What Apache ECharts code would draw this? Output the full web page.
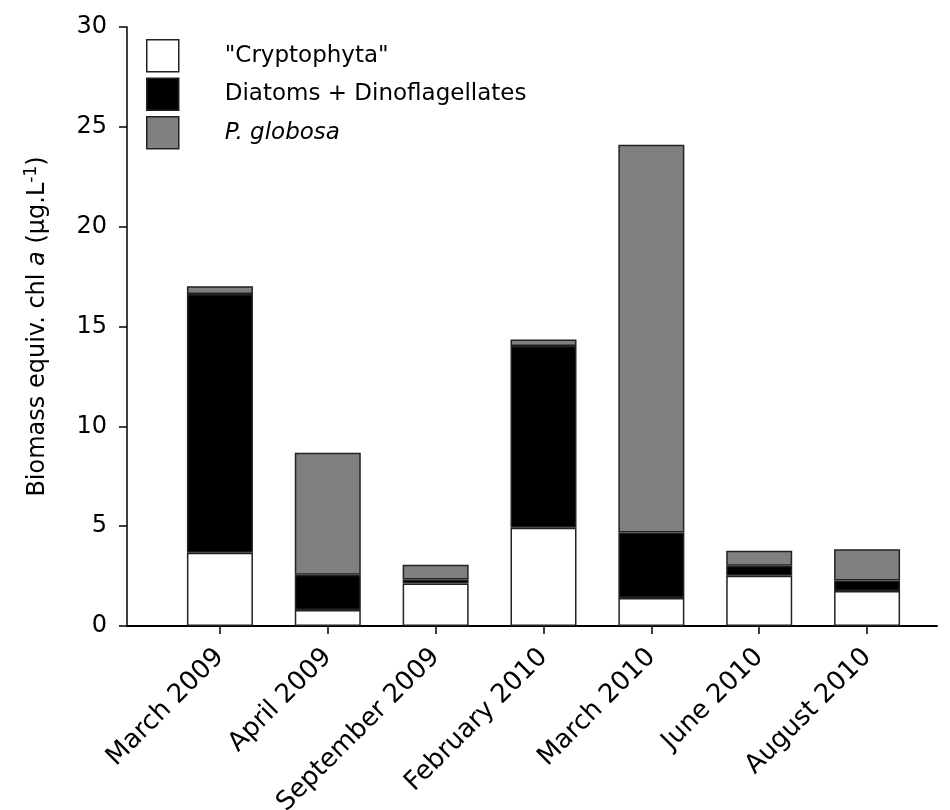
<!DOCTYPE html>
<html><head><meta charset="utf-8">
<script src="https://cdn.jsdelivr.net/npm/echarts@6/dist/echarts.min.js"></script>
<style>html,body{margin:0;padding:0;background:#fff}#c{width:950px;height:810px}</style>
</head><body><div id="c"></div>
<script>
var categories = ['March 2009','April 2009','September 2009','February 2010','March 2010','June 2010','August 2010'];
var cryptophyta = [3.67, 0.80, 2.13, 4.92, 1.40, 2.52, 1.75];
var diatomsDino = [12.96, 1.77, 0.20, 9.10, 3.28, 0.50, 0.53];
var pGlobosa = [0.38, 6.11, 0.74, 0.33, 19.42, 0.75, 1.57];
var yTicks = [0, 5, 10, 15, 20, 25, 30];

var FONT = '"DejaVu Sans", "Liberation Sans", Arial, sans-serif';
var chart = echarts.init(document.getElementById('c'), null, {renderer: 'canvas'});
function barSeries(name, data, color) {
  return {
    name: name, type: 'bar', stack: 'total', data: data,
    xAxisIndex: 1, yAxisIndex: 1, barWidth: 66,
    itemStyle: {color: color, borderColor: '#222', borderWidth: 1.5},
    emphasis: {disabled: true}
  };
}
chart.setOption({
  animation: false,
  textStyle: {fontFamily: FONT},
  grid: [
    {left: 127, right: 13, top: 27, bottom: 184, containLabel: false, outerBoundsMode: 'none'},
    {left: 166, right: 29, top: 27, bottom: 184, containLabel: false, outerBoundsMode: 'none'}
  ],
  legend: {
    left: 146, top: 39, orient: 'vertical', padding: 0,
    itemWidth: 32, itemHeight: 32, itemGap: 5,
    selectedMode: false,
    icon: 'rect',
    itemStyle: {borderColor: '#222', borderWidth: 1.5},
    textStyle: {fontSize: 23, color: '#000', fontFamily: FONT, padding: [0,0,0,41],
      rich: {i: {fontStyle: 'italic', fontSize: 23, color: '#000', fontFamily: FONT}}},
    formatter: function (n) { return n === 'P. globosa' ? '{i|P. globosa}' : n; },
    data: ['"Cryptophyta"', 'Diatoms + Dinoflagellates', 'P. globosa']
  },
  xAxis: [
    {type: 'value', gridIndex: 0, min: 0, max: 1,
     axisLine: {show: true, lineStyle: {color: '#000', width: 2}},
     axisTick: {show: false}, axisLabel: {show: false}, splitLine: {show: false}},
    {type: 'category', gridIndex: 1, data: categories, boundaryGap: true,
     axisLine: {show: false},
     axisTick: {show: true, alignWithLabel: true, length: 8, lineStyle: {color: '#000', width: 1.5}},
     axisLabel: {rotate: 45, fontSize: 26, color: '#000', fontFamily: FONT, margin: 27, interval: 0},
     splitLine: {show: false}}
  ],
  yAxis: [
    {type: 'value', gridIndex: 0, min: 0, max: 30, interval: 5,
     axisLine: {show: true, lineStyle: {color: '#000', width: 1.5}},
     axisTick: {show: true, inside: false, length: 8, lineStyle: {color: '#000', width: 1.5}},
     axisLabel: {fontSize: 24, color: '#000', fontFamily: FONT, margin: 20,
       formatter: function (v) { return yTicks.indexOf(v) >= 0 ? String(v) : ''; }},
     splitLine: {show: false},
     name: 'Biomass equiv. chl {i|a} (µg.L{sup|-1})',
     nameLocation: 'middle', nameGap: 75, nameRotate: 90,
     nameTextStyle: {fontSize: 24, color: '#000', fontFamily: FONT,
       rich: {i: {fontStyle: 'italic', fontSize: 24, color: '#000', fontFamily: FONT},
              sup: {fontSize: 17, color: '#000', fontFamily: FONT, verticalAlign: 'top', padding: [0,0,12,0]}}}},
    {type: 'value', gridIndex: 1, min: 0, max: 30, interval: 5, show: false, splitLine: {show: false}}
  ],
  series: [
    barSeries('"Cryptophyta"', cryptophyta, '#ffffff'),
    barSeries('Diatoms + Dinoflagellates', diatomsDino, '#000000'),
    barSeries('P. globosa', pGlobosa, '#808080')
  ]
});
</script></body></html>
